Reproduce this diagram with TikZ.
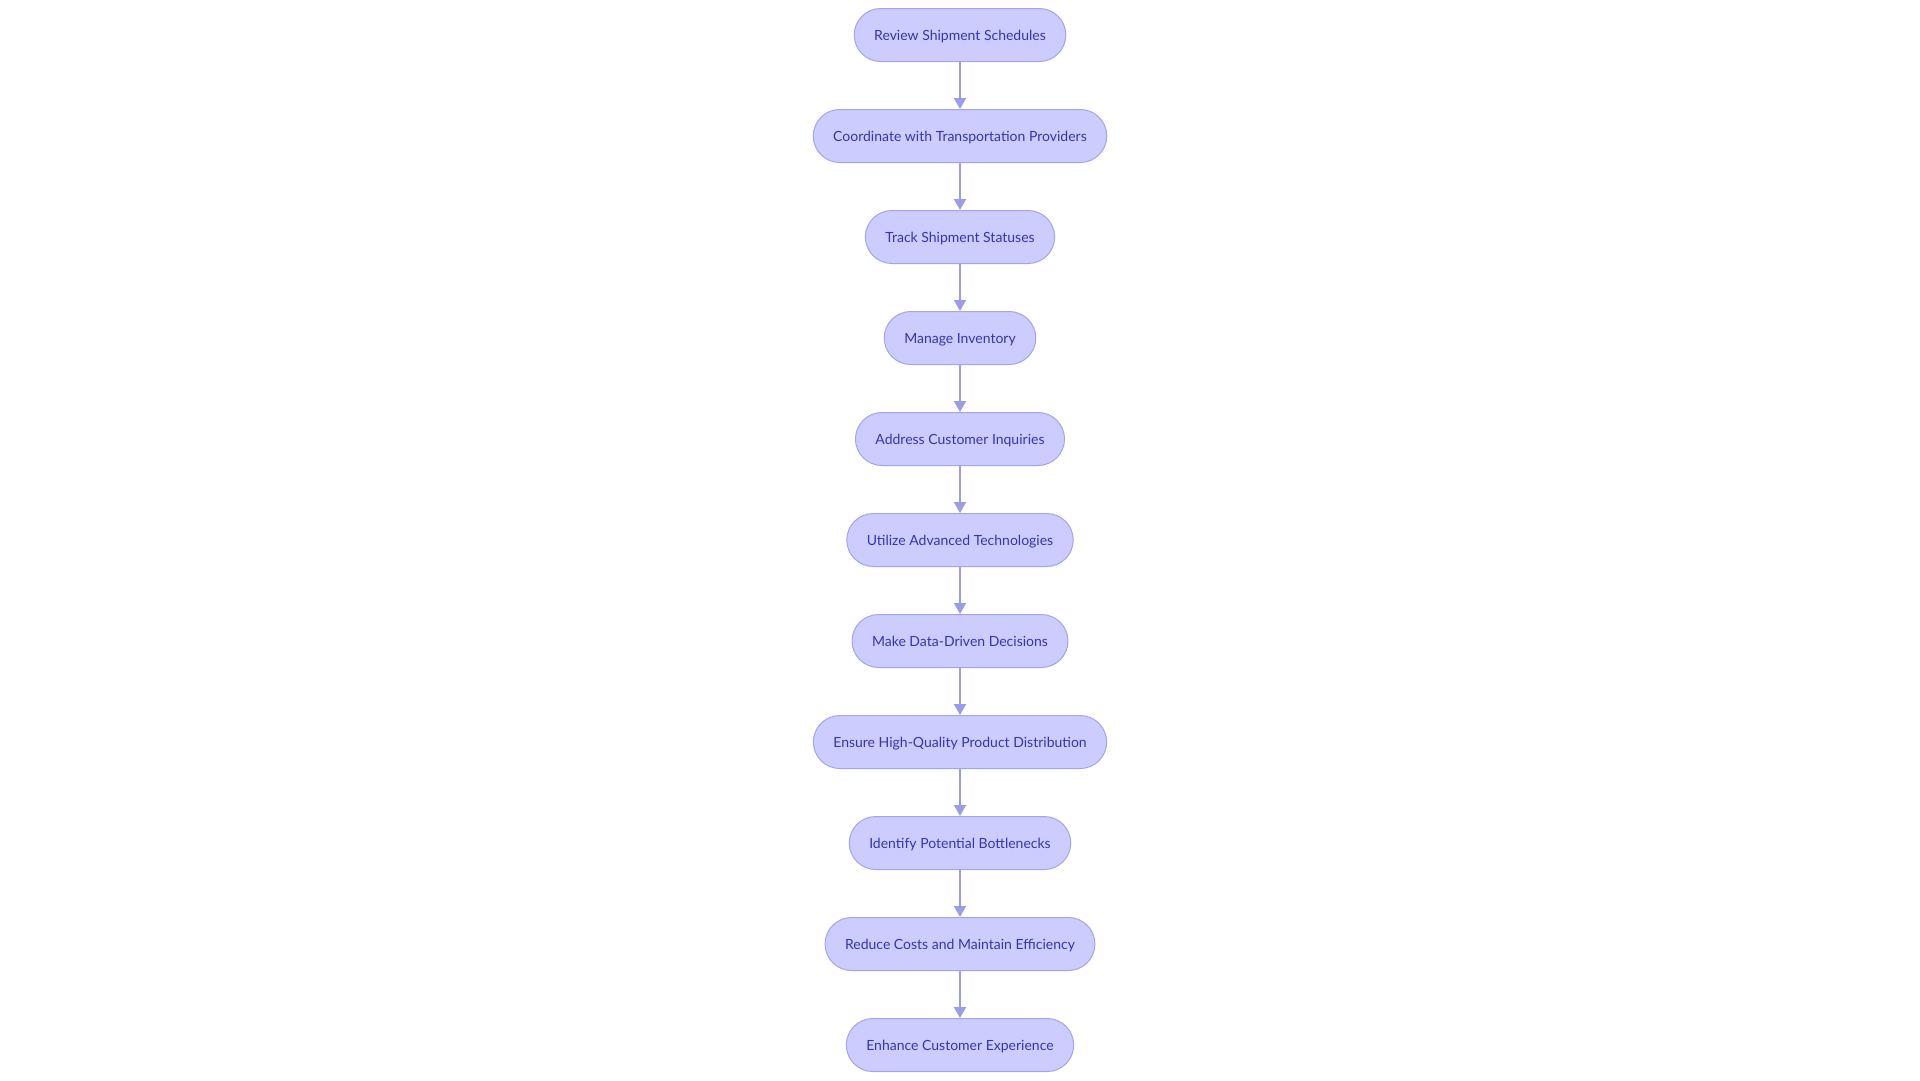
\documentclass[tikz,border=0pt]{standalone}
\usepackage{fontspec}
\setmainfont{Lato}
\usepackage{xcolor}
\usepackage{tikz}
\usetikzlibrary{arrows.meta, positioning}
\definecolor{boxfill}{HTML}{CCCCFF}
\definecolor{boxline}{HTML}{A3A3EE}
\definecolor{boxtext}{HTML}{3535AD}
\definecolor{arrowline}{HTML}{9C9CE4}
\tikzset{
  box/.style={rectangle, draw=boxline, fill=boxfill, text=boxtext, rounded corners=26.5pt, minimum height=53pt, inner xsep=20pt, text height=12pt, text depth=2pt, line width=1pt, align=center, font=\fontsize{14pt}{17pt}\selectfont},
  arrow/.style={-{Triangle[length=11pt, width=12pt]}, draw=arrowline, line width=2pt},
}
\begin{document}
\begin{tikzpicture}[node distance=47pt]
    \useasboundingbox (0,0) rectangle (1920pt,-1080pt);
    \node[box] (review) at (960pt,-35pt) {Review Shipment Schedules};
    \node[box, below=of review] (coord) {Coordinate with Transportation Providers};
    \node[box, below=of coord] (track) {Track Shipment Statuses};
    \node[box, below=of track] (inventory) {Manage Inventory};
    \node[box, below=of inventory] (inquiry) {Address Customer Inquiries};
    \node[box, below=of inquiry] (tech) {Utilize Advanced Technologies};
    \node[box, below=of tech] (data) {Make Data-Driven Decisions};
    \node[box, below=of data] (quality) {Ensure High-Quality Product Distribution};
    \node[box, below=of quality] (bottleneck) {Identify Potential Bottlenecks};
    \node[box, below=of bottleneck] (costs) {Reduce Costs and Maintain Efficiency};
    \node[box, below=of costs] (experience) {Enhance Customer Experience};
    \draw[arrow] (review) -- (coord);
    \draw[arrow] (coord) -- (track);
    \draw[arrow] (track) -- (inventory);
    \draw[arrow] (inventory) -- (inquiry);
    \draw[arrow] (inquiry) -- (tech);
    \draw[arrow] (tech) -- (data);
    \draw[arrow] (data) -- (quality);
    \draw[arrow] (quality) -- (bottleneck);
    \draw[arrow] (bottleneck) -- (costs);
    \draw[arrow] (costs) -- (experience);
  \end{tikzpicture}
\end{document}
